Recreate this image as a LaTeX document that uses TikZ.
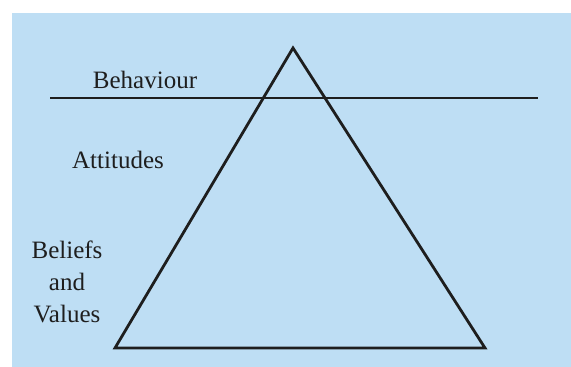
\documentclass[tikz,border=0pt]{standalone}
\usepackage{fontspec}
\setmainfont{Liberation Serif}
\usepackage{xcolor}
\definecolor{pyrblue}{RGB}{190,222,244}
\definecolor{pyrink}{RGB}{30,30,30}
\usetikzlibrary{positioning,calc}
\tikzset{
  edge/.style={draw=pyrink, line width=2.8pt, line join=miter},
  lvl/.style={font=\fontsize{25}{32}\selectfont, text=pyrink, align=center, inner sep=0pt, anchor=base}
}

\begin{document}
\begin{tikzpicture}[x=1pt,y=-1pt]
  \useasboundingbox (0,0) rectangle (571,367);
  \fill[pyrblue] (12,13) rectangle (571,367);
  % triangle corners
  \coordinate (apex) at (293,48);
  \coordinate (bl) at (115,348);
  \coordinate (br) at (485,348);
  \coordinate (cutl) at (50,98);
  \coordinate (cutr) at (538,98);
  \draw[edge] (apex) -- (bl) -- (br) -- cycle;
  \draw[edge] (cutl) -- (cutr);
  \node[lvl] (beh) at (145,88) {Behaviour};
  \node[lvl] (att) at (118,168) {Attitudes};
  \node[lvl] (bel) at (67,322) {Beliefs\\and\\Values};
\end{tikzpicture}
\end{document}
